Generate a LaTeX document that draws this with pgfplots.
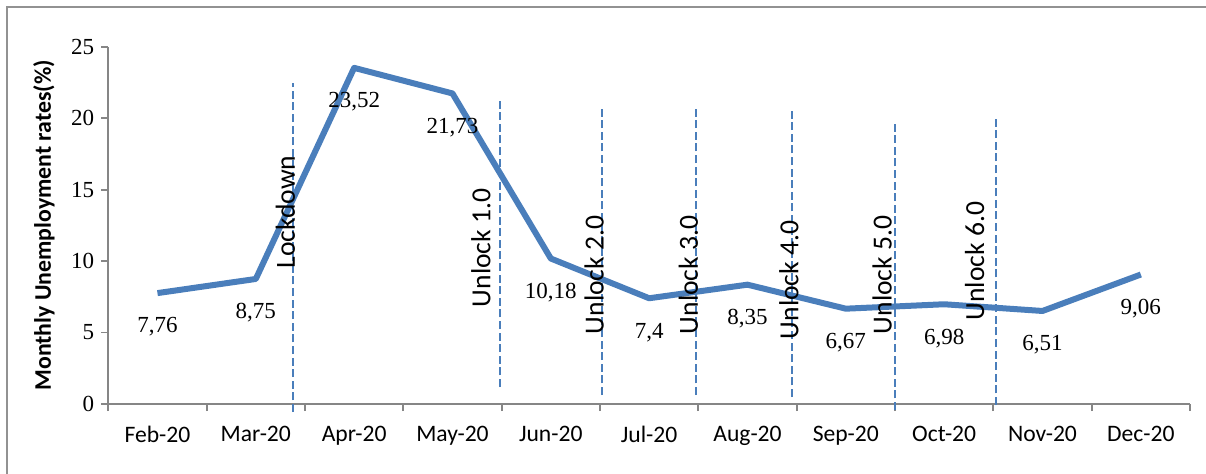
\documentclass[border=0pt]{standalone}
\usepackage{fontspec}
\setmainfont{Liberation Serif}
\newfontfamily\calibri{Carlito}
\usepackage{pgfplots}
\pgfplotsset{compat=1.18}
\usepackage{pgfplotstable}
\definecolor{lineblue}{RGB}{74,126,187}
\definecolor{axisgray}{RGB}{134,134,134}

\pgfplotstableread{
x y lab
0 7.76 7,76
1 8.75 8,75
2 23.52 23,52
3 21.73 21,73
4 10.18 10,18
5 7.4 7,4
6 8.35 8,35
7 6.67 6,67
8 6.98 6,98
9 6.51 6,51
10 9.06 9,06
}\datatable

\begin{document}
\begin{tikzpicture}
\useasboundingbox (0,0) rectangle (603pt,-236.5pt);
\draw[axisgray!90, line width=1pt] (3.5pt,-3.5pt) rectangle (640pt,-260pt);
\begin{axis}[
  at={(54.15pt,-202pt)}, anchor=south west, scale only axis,
  width=540.85pt, height=178.65pt,
  xmin=-0.5, xmax=10.5, ymin=0, ymax=25,
  axis x line*=bottom, axis y line*=left,
  axis line style={axisgray, line width=0.9pt, -},
  xtick={-0.5,0.5,...,10.5},
  x tick label as interval,
  xticklabels={Feb-20,Mar-20,Apr-20,May-20,Jun-20,Jul-20,Aug-20,Sep-20,Oct-20,Nov-20,Dec-20},
  ytick={0,5,...,25},
  tick align=outside,
  major tick length=3.5pt,
  tick style={axisgray, line width=0.9pt},
  xticklabel style={font=\calibri\fontsize{11.8}{14}\selectfont, text=black, yshift=-4pt},
  yticklabel style={font=\fontsize{11.5}{13}\selectfont, text=black},
  /pgf/number format/assume math mode=true,
  ylabel={Monthly Unemployment rates(\%)},
  every axis y label/.style={at={(axis description cs:-0.0595,0.5)}, rotate=90, anchor=center, font=\calibri\bfseries\fontsize{11.9}{14}\selectfont},
  clip=false,
]
\addplot[lineblue, line width=1pt, dash pattern=on 4pt off 1.8pt, forget plot] coordinates {(1.383,-0.56) (1.383,22.46)};
\addplot[lineblue, line width=1pt, dash pattern=on 4pt off 1.8pt, forget plot] coordinates {(3.48,1.19) (3.48,21.41)};
\addplot[lineblue, line width=1pt, dash pattern=on 4pt off 1.8pt, forget plot] coordinates {(4.52,0.63) (4.52,20.78)};
\addplot[lineblue, line width=1pt, dash pattern=on 4pt off 1.8pt, forget plot] coordinates {(5.48,0.63) (5.48,20.78)};
\addplot[lineblue, line width=1pt, dash pattern=on 4pt off 1.8pt, forget plot] coordinates {(6.45,0.49) (6.45,20.78)};
\addplot[lineblue, line width=1pt, dash pattern=on 4pt off 1.8pt, forget plot] coordinates {(7.50,-0.42) (7.50,19.66)};
\addplot[lineblue, line width=1pt, dash pattern=on 4pt off 1.8pt, forget plot] coordinates {(8.53,-0.07) (8.53,19.94)};
\addplot[lineblue, line width=3pt, line join=round, mark=none,
  nodes near coords, point meta=explicit symbolic,
  every node near coord/.append style={anchor=center, yshift=-17pt, text=black, font=\fontsize{11.5}{13}\selectfont}]
  table[x=x, y=y, meta=lab] {\datatable};
\begin{scope}[every node/.style={rotate=90, anchor=center, inner sep=0pt, text=black, font=\calibri\fontsize{13.8}{16}\selectfont}]
\node at (axis cs:1.30,13.44) {Lockdown};
\node at (axis cs:3.29,10.92) {Unlock 1.0};
\node at (axis cs:4.44,9.03) {Unlock 2.0};
\node at (axis cs:5.40,9.03) {Unlock 3.0};
\node at (axis cs:6.42,8.68) {Unlock 4.0};
\node at (axis cs:7.37,9.03) {Unlock 5.0};
\node at (axis cs:8.31,10.0) {Unlock 6.0};
\end{scope}
\end{axis}
\end{tikzpicture}
\end{document}
